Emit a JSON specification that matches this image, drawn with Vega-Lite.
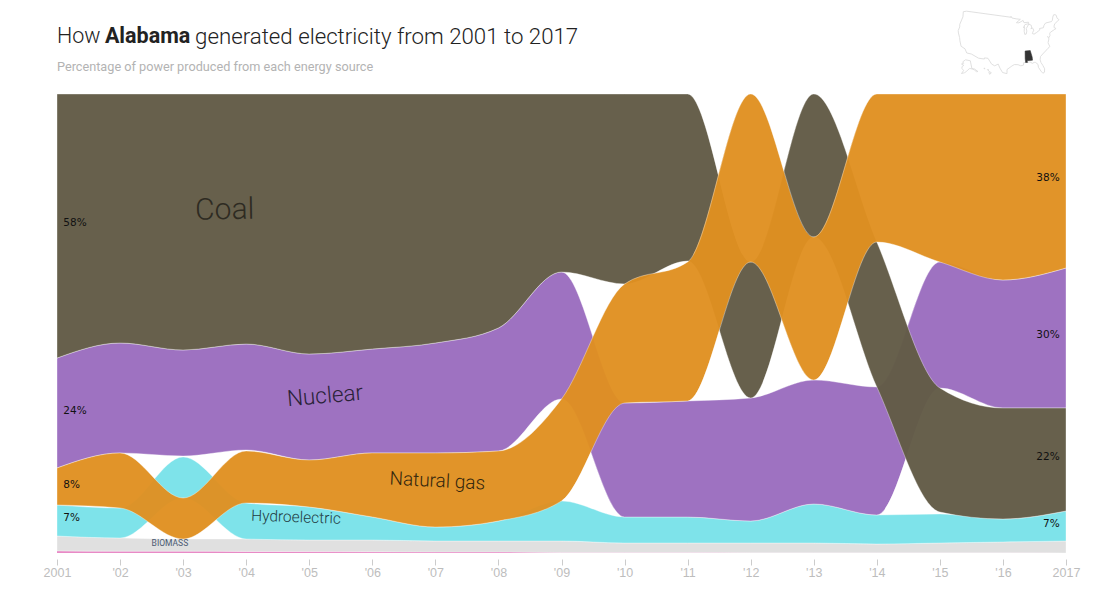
{
"$schema":"https://vega.github.io/schema/vega-lite/v6.json",
"width":1009,"height":459,"autosize":"none",
"padding":{"left":57,"top":94,"right":46,"bottom":47},
"background":"white",
"config":{"view":{"stroke":null}},
"datasets":{
"energy":[
{"year":2001,"source":"Coal","high":100,"low":42.48},{"year":2002,"source":"Coal","high":100,"low":45.75},{"year":2003,"source":"Coal","high":100,"low":44.23},{"year":2004,"source":"Coal","high":100,"low":45.53},{"year":2005,"source":"Coal","high":100,"low":43.36},{"year":2006,"source":"Coal","high":100,"low":44.44},{"year":2007,"source":"Coal","high":100,"low":45.75},{"year":2008,"source":"Coal","high":100,"low":49.02},{"year":2009,"source":"Coal","high":100,"low":61.22},{"year":2010,"source":"Coal","high":100,"low":58.61},{"year":2011,"source":"Coal","high":100,"low":63.62},{"year":2012,"source":"Coal","high":63.4,"low":33.77},{"year":2013,"source":"Coal","high":100,"low":68.85},{"year":2014,"source":"Coal","high":67.76,"low":36.17},{"year":2015,"source":"Coal","high":35.95,"low":8.93},{"year":2016,"source":"Coal","high":31.59,"low":7.41},{"year":2017,"source":"Coal","high":31.59,"low":9.15},
{"year":2001,"source":"Nuclear","high":42.48,"low":18.52},{"year":2002,"source":"Nuclear","high":45.75,"low":21.79},{"year":2003,"source":"Nuclear","high":44.23,"low":21.13},{"year":2004,"source":"Nuclear","high":45.53,"low":22.44},{"year":2005,"source":"Nuclear","high":43.36,"low":20.26},{"year":2006,"source":"Nuclear","high":44.44,"low":21.79},{"year":2007,"source":"Nuclear","high":45.75,"low":21.79},{"year":2008,"source":"Nuclear","high":49.02,"low":22.22},{"year":2009,"source":"Nuclear","high":61.22,"low":33.55},{"year":2010,"source":"Nuclear","high":32.68,"low":7.84},{"year":2011,"source":"Nuclear","high":33.12,"low":7.84},{"year":2012,"source":"Nuclear","high":33.77,"low":6.97},{"year":2013,"source":"Nuclear","high":37.69,"low":10.68},{"year":2014,"source":"Nuclear","high":36.17,"low":8.28},{"year":2015,"source":"Nuclear","high":63.4,"low":35.95},{"year":2016,"source":"Nuclear","high":59.48,"low":31.59},{"year":2017,"source":"Nuclear","high":62.09,"low":31.59},
{"year":2001,"source":"Natural gas","high":18.52,"low":10.46},{"year":2002,"source":"Natural gas","high":21.79,"low":9.8},{"year":2003,"source":"Natural gas","high":11.98,"low":3.05},{"year":2004,"source":"Natural gas","high":22.22,"low":10.89},{"year":2005,"source":"Natural gas","high":20.26,"low":10.02},{"year":2006,"source":"Natural gas","high":21.79,"low":7.84},{"year":2007,"source":"Natural gas","high":21.79,"low":5.66},{"year":2008,"source":"Natural gas","high":22.22,"low":6.97},{"year":2009,"source":"Natural gas","high":33.55,"low":11.33},{"year":2010,"source":"Natural gas","high":58.61,"low":32.68},{"year":2011,"source":"Natural gas","high":63.4,"low":33.12},{"year":2012,"source":"Natural gas","high":100,"low":63.4},{"year":2013,"source":"Natural gas","high":68.85,"low":37.69},{"year":2014,"source":"Natural gas","high":100,"low":67.76},{"year":2015,"source":"Natural gas","high":100,"low":63.4},{"year":2016,"source":"Natural gas","high":100,"low":59.48},{"year":2017,"source":"Natural gas","high":100,"low":62.09},
{"year":2001,"source":"Hydroelectric","high":10.46,"low":3.7},{"year":2002,"source":"Hydroelectric","high":9.8,"low":3.27},{"year":2003,"source":"Hydroelectric","high":20.92,"low":11.98},{"year":2004,"source":"Hydroelectric","high":10.89,"low":3.05},{"year":2005,"source":"Hydroelectric","high":10.02,"low":2.83},{"year":2006,"source":"Hydroelectric","high":7.84,"low":2.83},{"year":2007,"source":"Hydroelectric","high":5.66,"low":2.61},{"year":2008,"source":"Hydroelectric","high":6.97,"low":2.61},{"year":2009,"source":"Hydroelectric","high":11.33,"low":2.61},{"year":2010,"source":"Hydroelectric","high":7.84,"low":2.18},{"year":2011,"source":"Hydroelectric","high":7.84,"low":2.18},{"year":2012,"source":"Hydroelectric","high":6.97,"low":2.18},{"year":2013,"source":"Hydroelectric","high":10.68,"low":2.18},{"year":2014,"source":"Hydroelectric","high":8.28,"low":1.96},{"year":2015,"source":"Hydroelectric","high":8.5,"low":2.18},{"year":2016,"source":"Hydroelectric","high":7.41,"low":2.4},{"year":2017,"source":"Hydroelectric","high":9.15,"low":2.61},
{"year":2001,"source":"Biomass","high":3.7,"low":0.45},{"year":2002,"source":"Biomass","high":3.27,"low":0.4},{"year":2003,"source":"Biomass","high":3.05,"low":0.4},{"year":2004,"source":"Biomass","high":3.05,"low":0.35},{"year":2005,"source":"Biomass","high":2.83,"low":0.3},{"year":2006,"source":"Biomass","high":2.83,"low":0.25},{"year":2007,"source":"Biomass","high":2.61,"low":0.2},{"year":2008,"source":"Biomass","high":2.61,"low":0.2},{"year":2009,"source":"Biomass","high":2.61,"low":0.1},{"year":2010,"source":"Biomass","high":2.18,"low":0.1},{"year":2011,"source":"Biomass","high":2.18,"low":0.1},{"year":2012,"source":"Biomass","high":2.18,"low":0.05},{"year":2013,"source":"Biomass","high":2.18,"low":0.05},{"year":2014,"source":"Biomass","high":1.96,"low":0.05},{"year":2015,"source":"Biomass","high":2.18,"low":0.05},{"year":2016,"source":"Biomass","high":2.4,"low":0.05},{"year":2017,"source":"Biomass","high":2.61,"low":0},
{"year":2001,"source":"Other","high":0.45,"low":0},{"year":2002,"source":"Other","high":0.4,"low":0},{"year":2003,"source":"Other","high":0.4,"low":0},{"year":2004,"source":"Other","high":0.35,"low":0},{"year":2005,"source":"Other","high":0.3,"low":0},{"year":2006,"source":"Other","high":0.25,"low":0},{"year":2007,"source":"Other","high":0.2,"low":0},{"year":2008,"source":"Other","high":0.2,"low":0},{"year":2009,"source":"Other","high":0.1,"low":0},{"year":2010,"source":"Other","high":0.1,"low":0},{"year":2011,"source":"Other","high":0.1,"low":0},{"year":2012,"source":"Other","high":0.05,"low":0},{"year":2013,"source":"Other","high":0.05,"low":0},{"year":2014,"source":"Other","high":0.05,"low":0},{"year":2015,"source":"Other","high":0.05,"low":0},{"year":2016,"source":"Other","high":0.05,"low":0},{"year":2017,"source":"Other","high":0,"low":0}
],
"pctLeft":[{"year":2001.1,"pct":71.9,"label":"58%"},{"year":2001.1,"pct":31,"label":"24%"},{"year":2001.1,"pct":14.8,"label":"8%"},{"year":2001.1,"pct":7.6,"label":"7%"}],
"pctRight":[{"year":2016.9,"pct":81.7,"label":"38%"},{"year":2016.9,"pct":47.5,"label":"30%"},{"year":2016.9,"pct":20.9,"label":"22%"},{"year":2016.9,"pct":6.3,"label":"7%"}]
},
"layer":[
{"data":{"name":"energy"},"transform":[{"filter":"datum.source==='Other'"}],"mark":{"type":"area","interpolate":"monotone","color":"#e88ac6"},
"encoding":{"y":{"field":"high","type":"quantitative","scale":{"domain":[0,100],"nice":false},"axis":null},"y2":{"field":"low"},"x":{"field":"year","type":"quantitative","scale":{"domain":[2001,2017],"nice":false,"zero":false},"axis":{"title":null,"values":[2001,2002,2003,2004,2005,2006,2007,2008,2009,2010,2011,2012,2013,2014,2015,2016,2017],"labelExpr":"datum.value==2001||datum.value==2017?''+datum.value:\"'\"+substring(''+datum.value,2,4)","domain":false,"grid":false,"offset":6,"tickSize":6,"tickColor":"#ccc","labelColor":"#bdbdbd","labelFont":"Liberation Sans","labelFontSize":12.5,"labelPadding":1,"labelFlush":false,"labelOverlap":false}}}},
{"data":{"name":"energy"},"transform":[{"filter":"datum.source==='Biomass'"}],"mark":{"type":"area","interpolate":"monotone","color":"#e0e0e0","stroke":"#fff","strokeWidth":0.6,"strokeOpacity":0.6},"encoding":{"x":{"field":"year","type":"quantitative"},"y":{"field":"high","type":"quantitative"},"y2":{"field":"low"}}},
{"data":{"name":"energy"},"transform":[{"filter":"datum.source==='Hydroelectric'"}],"mark":{"type":"area","interpolate":"monotone","color":"#7ee3ea","stroke":"#fff","strokeWidth":0.6,"strokeOpacity":0.6},"encoding":{"x":{"field":"year","type":"quantitative"},"y":{"field":"high","type":"quantitative"},"y2":{"field":"low"}}},
{"data":{"name":"energy"},"transform":[{"filter":"datum.source==='Nuclear'"}],"mark":{"type":"area","interpolate":"monotone","color":"#9c6fc0","fillOpacity":0.98,"stroke":"#fff","strokeWidth":0.6,"strokeOpacity":0.6},"encoding":{"x":{"field":"year","type":"quantitative"},"y":{"field":"high","type":"quantitative"},"y2":{"field":"low"}}},
{"data":{"name":"energy"},"transform":[{"filter":"datum.source==='Coal'"}],"mark":{"type":"area","interpolate":"monotone","color":"#625b46","fillOpacity":0.97,"stroke":"#fff","strokeWidth":0.6,"strokeOpacity":0.6},"encoding":{"x":{"field":"year","type":"quantitative"},"y":{"field":"high","type":"quantitative"},"y2":{"field":"low"}}},
{"data":{"name":"energy"},"transform":[{"filter":"datum.source==='Natural gas'"}],"mark":{"type":"area","interpolate":"monotone","color":"#e09020","fillOpacity":0.96,"stroke":"#fff","strokeWidth":0.6,"strokeOpacity":0.6},"encoding":{"x":{"field":"year","type":"quantitative"},"y":{"field":"high","type":"quantitative"},"y2":{"field":"low"}}},
{"data":{"name":"pctLeft"},"mark":{"type":"text","align":"left","baseline":"middle","font":"DejaVu Sans","fontSize":10.5,"color":"#111"},"encoding":{"x":{"field":"year","type":"quantitative"},"y":{"field":"pct","type":"quantitative"},"text":{"field":"label"}}},
{"data":{"name":"pctRight"},"mark":{"type":"text","align":"right","baseline":"middle","font":"DejaVu Sans","fontSize":10.5,"color":"#111"},"encoding":{"x":{"field":"year","type":"quantitative"},"y":{"field":"pct","type":"quantitative"},"text":{"field":"label"}}},
{"data":{"values":[{"year":2003.66,"pct":74.7,"label":"Coal"}]},"mark":{"type":"text","font":"Roboto","fontWeight":300,"fontSize":30,"color":"#2e2b22","angle":-1,"baseline":"middle"},"encoding":{"x":{"field":"year","type":"quantitative"},"y":{"field":"pct","type":"quantitative"},"text":{"field":"label"}}},
{"data":{"values":[{"year":2005.25,"pct":34.2,"label":"Nuclear"}]},"mark":{"type":"text","font":"Roboto","fontWeight":300,"fontSize":22.5,"color":"#2a2238","angle":-5,"baseline":"middle"},"encoding":{"x":{"field":"year","type":"quantitative"},"y":{"field":"pct","type":"quantitative"},"text":{"field":"label"}}},
{"data":{"values":[{"year":2007.03,"pct":15.7,"label":"Natural gas"}]},"mark":{"type":"text","font":"Roboto","fontWeight":300,"fontSize":19,"color":"#33270e","angle":3,"baseline":"middle"},"encoding":{"x":{"field":"year","type":"quantitative"},"y":{"field":"pct","type":"quantitative"},"text":{"field":"label"}}},
{"data":{"values":[{"year":2004.79,"pct":7.8,"label":"Hydroelectric"}]},"mark":{"type":"text","font":"Roboto","fontWeight":300,"fontSize":15.5,"color":"#1f3a42","angle":2,"baseline":"middle"},"encoding":{"x":{"field":"year","type":"quantitative"},"y":{"field":"pct","type":"quantitative"},"text":{"field":"label"}}},
{"data":{"values":[{"year":2002.79,"pct":2.2,"label":"BIOMASS"}]},"mark":{"type":"text","font":"Roboto","fontSize":8.5,"color":"#4b5a72","baseline":"middle"},"encoding":{"x":{"field":"year","type":"quantitative"},"y":{"field":"pct","type":"quantitative"},"text":{"field":"label"}}},
{"data":{"values":[{"year":2001,"pct":112.4,"label":"How"}]},"mark":{"type":"text","align":"left","baseline":"middle","font":"Roboto","fontWeight":300,"fontSize":21.5,"color":"#222"},"encoding":{"x":{"field":"year","type":"quantitative"},"y":{"field":"pct","type":"quantitative"},"text":{"field":"label"}}},
{"data":{"values":[{"year":2001.76,"pct":112.4,"label":"Alabama"}]},"mark":{"type":"text","align":"left","baseline":"middle","font":"Roboto","fontWeight":"bold","fontSize":21.5,"color":"#222"},"encoding":{"x":{"field":"year","type":"quantitative"},"y":{"field":"pct","type":"quantitative"},"text":{"field":"label"}}},
{"data":{"values":[{"year":2003.19,"pct":112.4,"label":"generated electricity from 2001 to 2017"}]},"mark":{"type":"text","align":"left","baseline":"middle","font":"Roboto","fontWeight":300,"fontSize":22.25,"color":"#222"},"encoding":{"x":{"field":"year","type":"quantitative"},"y":{"field":"pct","type":"quantitative"},"text":{"field":"label"}}},
{"data":{"values":[{"year":2001,"pct":105.8,"label":"Percentage of power produced from each energy source"}]},"mark":{"type":"text","align":"left","baseline":"middle","font":"Roboto","fontSize":12.7,"color":"#b3b3b3"},"encoding":{"x":{"field":"year","type":"quantitative"},"y":{"field":"pct","type":"quantitative"},"text":{"field":"label"}}},
{"data":{"values":[
{"type":"Feature","properties":{"name":"US"},"geometry":{"type":"MultiPolygon","coordinates":[
[[[-124.7,48.4],[-122.8,49],[-95.15,49],[-95.15,49.4],[-94.6,48.7],[-92,48.3],[-89.5,48],[-92,46.7],[-90.5,46.6],[-87.9,47.45],[-87.5,46.5],[-84.8,46.5],[-84.7,45.9],[-87,45.7],[-87.6,45.1],[-88,44.5],[-87.4,44.9],[-87.8,43],[-87.6,41.7],[-86.8,41.8],[-86.3,43],[-86.5,44],[-85.5,45],[-84.8,45.75],[-83.4,45.1],[-83.4,44],[-83.9,43.7],[-82.9,44],[-82.4,43],[-83.1,42.2],[-83.4,41.7],[-82.5,41.4],[-81,41.9],[-79,42.7],[-79,43.3],[-76.8,43.3],[-76.2,44.2],[-75,45],[-71.5,45],[-70.8,45.4],[-70,46.7],[-69.2,47.45],[-68.3,47.3],[-67.8,47],[-67.8,45.7],[-67,44.9],[-68.5,44.3],[-70,43.8],[-70.7,43],[-70.9,42.3],[-70,41.8],[-71.2,41.5],[-73.5,40.9],[-74,40.6],[-74.2,39.6],[-75,38.9],[-75.5,39.5],[-75.1,38.4],[-75.9,37.1],[-76,36.9],[-75.5,35.3],[-76.7,34.7],[-78,33.9],[-79.2,33.2],[-81,32],[-81.4,30.7],[-81.2,29.6],[-80.5,28.2],[-80,26.8],[-80.3,25.4],[-81.1,25.1],[-81.8,26.1],[-82.7,27.8],[-82.7,29],[-83.7,29.9],[-84.3,30],[-85.3,29.7],[-86.3,30.4],[-88,30.3],[-89.3,30.3],[-89.5,29.3],[-90.8,29.1],[-92,29.6],[-93.8,29.7],[-95,29.1],[-97.2,27.7],[-97.2,26],[-99.2,26.4],[-100.5,28.2],[-101.4,29.8],[-103,29],[-104.5,29.6],[-106.5,31.8],[-108.2,31.8],[-108.2,31.33],[-111,31.33],[-114.8,32.5],[-117.1,32.5],[-118.4,34],[-120.6,34.6],[-121.9,36.6],[-122.5,37.8],[-123.8,39.5],[-124.3,40.4],[-124.1,42],[-124.5,43],[-124,46.3],[-124.7,48.4]]],
[[[-141,69.6],[-141,60.3],[-135,59],[-130,55],[-133,55.5],[-136,58],[-140,59.7],[-146,60.8],[-151,59.2],[-154,57.5],[-158,56],[-164,54.7],[-160,58.7],[-165,60.5],[-165,63],[-161,64.5],[-168,65.6],[-162,67],[-166,68.3],[-157,71.2],[-141,69.6]]],
[[[-156,20.2],[-155,19.7],[-155.7,19],[-156,19.7],[-156,20.2]]],
[[[-156.7,21],[-156,20.8],[-156.4,20.6],[-156.7,21]]],
[[[-158.2,21.6],[-157.7,21.4],[-158.1,21.3],[-158.2,21.6]]]
]}}
]},"projection":{"type":"albersUsa","scale":140,"translate":[951.5,-51.5]},"mark":{"type":"geoshape","clip":false,"fill":"#fff","fillOpacity":0,"stroke":"#dcdcdc","strokeWidth":0.9}},
{"data":{"values":[{"type":"Feature","properties":{"name":"Alabama"},"geometry":{"type":"Polygon","coordinates":[[[-88.2,35],[-85.6,35],[-85,32.3],[-85,31],[-87.6,31],[-87.5,30.3],[-88.4,30.3],[-88.47,31.9],[-88.2,35]]]}}]},"projection":{"type":"albersUsa","scale":140,"translate":[951.5,-51.5]},"mark":{"type":"geoshape","clip":false,"fill":"#333","stroke":"#333","strokeWidth":0.5}}
]
}
